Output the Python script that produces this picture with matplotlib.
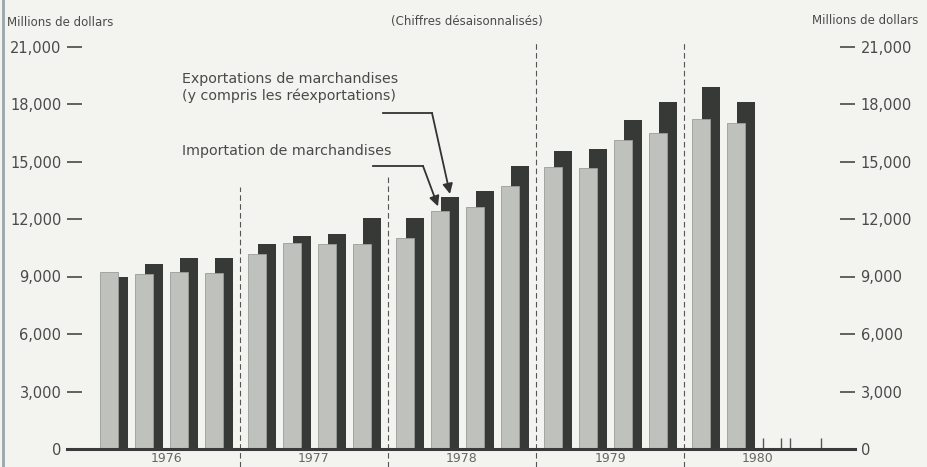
import matplotlib
matplotlib.use("Agg")
import matplotlib.pyplot as plt
from matplotlib.lines import Line2D
import numpy as np

# ---- data -------------------------------------------------------------
years = ["1976", "1977", "1978", "1979", "1980"]
quarters_per_year = [4, 4, 4, 4, 2]
imports = [9250, 9150, 9250, 9200,
           10150, 10750, 10700, 10700,
           10990, 12400, 12650, 13700,
           14700, 14650, 16120, 16470,
           17200, 17000]
exports = [8950, 9640, 9980, 9980,
           10700, 11110, 11210, 12050,
           12050, 13150, 13450, 14750,
           15550, 15650, 17160, 18120,
           18880, 18100]
yticks = [0, 3000, 6000, 9000, 12000, 15000, 18000, 21000]
ytick_labels = ["0", "3,000", "6,000", "9,000", "12,000", "15,000", "18,000", "21,000"]

# ---- style ------------------------------------------------------------
BG = "#f3f3ef"
LIGHT = "#bec1bc"
DARK = "#363936"
TXT = "#4a4a4a"
W, H = 928, 467
plt.rcParams["font.family"] = ["DejaVu Sans"]

fig = plt.figure(figsize=(W / 100, H / 100), dpi=100, facecolor=BG)

def fx(px):
    return px / W

def fy(py):
    return 1 - py / H

ax_l, ax_r, ax_b, ax_t = 67, 855, 449, 46.5
ax = fig.add_axes([fx(ax_l), fy(ax_b), (ax_r - ax_l) / W, (ax_b - ax_t) / H])
ax.set_facecolor("none")
QPX = 35.0  # pixels per quarter
ax.set_xlim(0, (ax_r - ax_l) / QPX)
ax.set_ylim(0, 21000)

year_w = 148 / QPX
year0 = (92 - ax_l) / QPX
bar_w = 18 / QPX
off = 10 / QPX

xs, year_starts = [], []
for k, n in enumerate(quarters_per_year):
    ys = year0 + k * year_w
    year_starts.append(ys)
    for q in range(n):
        xs.append(ys + 17 / QPX + q)
xs = np.array(xs)

ax.bar(xs + off, exports, width=bar_w, color=DARK, zorder=2, linewidth=0)
ax.bar(xs, imports, width=bar_w, color=LIGHT, zorder=3, edgecolor="#9a9d98", linewidth=0.6)

# spines / axes
for s in ["top", "left", "right", "bottom"]:
    ax.spines[s].set_visible(False)
ax.axhline(0, color="#3a3a3a", lw=2.2, zorder=5, clip_on=False)

ax.set_yticks(yticks)
ax.set_yticklabels(ytick_labels)
ax.tick_params(axis="y", direction="in", length=11, width=1.3, color="#555555",
               labelsize=10.5, labelcolor=TXT, pad=4,
               left=True, right=True, labelleft=True, labelright=True)

# small tick marks after 1980 on the base line
extra_ticks_px = [763, 781, 790, 821]
ax.set_xticks([(p - ax_l) / QPX for p in extra_ticks_px])
ax.set_xticklabels([])
ax.tick_params(axis="x", direction="in", length=8, width=1.0, color="#555555")

# year separators (dashed)
sep_top_px = [None, 187, 177, 42, 42]
for k in range(1, len(years)):
    x = year_starts[k]
    top_val = (ax_b - sep_top_px[k]) / (ax_b - ax_t) * 21000
    bottom_val = -(H - ax_b) / (ax_b - ax_t) * 21000
    ax.plot([x, x], [bottom_val, top_val], color="#555555", lw=0.8,
            ls=(0, (5, 3)), zorder=1, clip_on=False)

# year labels
for k, y in enumerate(years):
    xpix = ax.transData.transform((year_starts[k] + year_w / 2, 0))[0]
    fig.text(xpix / W, fy(458), y, ha="center", va="center", fontsize=9, color="#666666")

# headers
fig.text(fx(7), fy(22), "Millions de dollars", fontsize=8.5, color=TXT, ha="left", va="center")
fig.text(fx(918), fy(21), "Millions de dollars", fontsize=8.5, color=TXT, ha="right", va="center")
fig.text(fx(467), fy(21), "(Chiffres désaisonnalisés)", fontsize=8.5, color=TXT, ha="center", va="center")

# annotations
fig.text(fx(182), fy(79), "Exportations de marchandises", fontsize=10.3, color=TXT, ha="left", va="center")
fig.text(fx(182), fy(96), "(y compris les réexportations)", fontsize=10.3, color=TXT, ha="left", va="center")
fig.text(fx(182), fy(151), "Importation de marchandises", fontsize=10.3, color=TXT, ha="left", va="center")

def arrow(points, color="#333333"):
    xsp = [fx(p[0]) for p in points]
    ysp = [fy(p[1]) for p in points]
    fig.add_artist(Line2D(xsp[:-1], ysp[:-1], transform=fig.transFigure, color=color, lw=1.3))
    fig.add_artist(matplotlib.patches.FancyArrowPatch(
        (xsp[-2], ysp[-2]), (xsp[-1], ysp[-1]), transform=fig.transFigure,
        arrowstyle="-|>,head_length=6,head_width=3", color=color, lw=1.3,
        shrinkA=0, shrinkB=0))

i_q = 9  # 1978 Q2
def data_to_px(x, y):
    dx, dy = ax.transData.transform((x, y))
    return dx, H - dy

ex_px = data_to_px(xs[i_q] + off, exports[i_q])
im_px = data_to_px(xs[i_q], imports[i_q])
arrow([(383, 113), (432, 113), (ex_px[0], ex_px[1] - 3)])
arrow([(373, 166), (423, 166), (im_px[0] - 2, im_px[1] - 5)])

# left border line
fig.add_artist(Line2D([fx(2.5), fx(2.5)], [0, 1], transform=fig.transFigure,
                      color="#9aa6ac", lw=2))

fig.savefig("out.png", dpi=100, facecolor=BG)
